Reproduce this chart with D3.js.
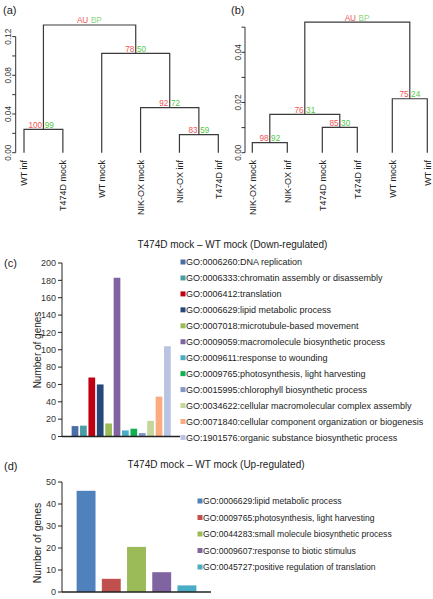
<!DOCTYPE html>
<html><head><meta charset="utf-8">
<script src="https://cdn.jsdelivr.net/npm/d3@7"></script>
<style>body{margin:0;background:#fff}svg{display:block;font-family:"Liberation Sans",Arial,sans-serif}</style>
</head><body><svg id="chart" width="433" height="599"></svg>
<script>
// ---------- data ----------
const leavesA = ["WT inf","T474D mock","WT mock","NIK-OX mock","NIK-OX inf","T474D inf"];
const mergeA = [[-5,-6],[-1,-2],[-4,1],[-3,3],[2,4]];
const heightA = [0.0186,0.0242,0.0465,0.1027,0.132];
const auA = ["83","100","92","78","AU"];
const bpA = ["59","99","72","50","BP"];
const ticksA = [0,0.02,0.04,0.06,0.08,0.10,0.12];
const tickLabelsA = ["0.00","","0.04","","0.08","","0.12"];

const leavesB = ["NIK-OX mock","NIK-OX inf","T474D mock","T474D inf","WT mock","WT inf"];
const mergeB = [[-1,-2],[-3,-4],[1,2],[-5,-6],[3,4]];
const heightB = [0.0040,0.0101,0.0153,0.0215,0.052];
const auB = ["98","85","76","75","AU"];
const bpB = ["92","30","31","24","BP"];
const ticksB = [0,0.01,0.02,0.03,0.04,0.05];
const tickLabelsB = ["0.00","","0.02","","0.04",""];

const titleDown = "T474D mock \u2013 WT mock (Down-regulated)";
const termsDown = ["GO:0006260:DNA replication","GO:0006333:chromatin assembly or disassembly","GO:0006412:translation","GO:0006629:lipid metabolic process","GO:0007018:microtubule-based movement","GO:0009059:macromolecule biosynthetic process","GO:0009611:response to wounding","GO:0009765:photosynthesis, light harvesting","GO:0015995:chlorophyll biosynthetic process","GO:0034622:cellular macromolecular complex assembly","GO:0071840:cellular component organization or biogenesis","GO:1901576:organic substance biosynthetic process"];
const valuesDown = [12,12.5,68,60,15,183,7,9,4,18,46,104];
const ticksDown = [0,20,40,60,80,100,120,140,160,180,200];

const titleUp = "T474D mock \u2013 WT mock (Up-regulated)";
const termsUp = ["GO:0006629:lipid metabolic process","GO:0009765:photosynthesis, light harvesting","GO:0044283:small molecule biosynthetic process","GO:0009607:response to biotic stimulus","GO:0045727:positive regulation of translation"];
const valuesUp = [46,6,20.5,9,3];
const ticksUp = [0,10,20,30,40,50];

// ---------- styles ----------
const paletteDown = ["#4a6fa6","#4a9da2","#c00010","#24497a","#9bbb59","#8064a2","#4bacc6","#10b050","#8596c8","#c3d69b","#fbab80","#b8c4e2"];
const paletteUp = ["#4f81bd","#c0504d","#9bbb59","#8064a2","#4bacc6"];
const AUcol = "#ee5555", BPcol = "#55c845";

const svg = d3.select("#chart");
svg.append("rect").attr("width",433).attr("height",599).attr("fill","#fff");

function dendro(o){
  const g = svg.append("g");
  const x = d3.scalePoint().domain(o.leaves).range(o.xr);
  const y = d3.scaleLinear().domain([0,o.scaleVal]).range([o.y0,o.y1]);
  const pos = [];
  const get = c => c<0 ? {x:x(o.leaves[-c-1]), h:0} : pos[c-1];
  const lines = [];
  o.merge.forEach((m,i)=>{
    const a = get(m[0]), b = get(m[1]), h = o.heights[i];
    lines.push(`M${a.x},${y(a.h)}V${y(h)}H${b.x}V${y(b.h)}`);
    pos.push({x:(a.x+b.x)/2, h:h});
  });
  g.selectAll("path.br").data(lines).join("path").attr("class","br")
    .attr("d",d=>d).attr("fill","none").attr("stroke","#3a3a3a").attr("stroke-width",1.2);
  // p-values
  g.selectAll("text.au").data(pos).join("text").attr("class","au")
    .attr("x",d=>d.x-1.3).attr("y",d=>y(d.h)-1.6).attr("text-anchor","end")
    .attr("font-size",8.2).attr("fill",AUcol).text((d,i)=>o.au[i]);
  g.selectAll("text.bp").data(pos).join("text").attr("class","bp")
    .attr("x",d=>d.x+1.3).attr("y",d=>y(d.h)-1.6).attr("text-anchor","start")
    .attr("font-size",8.2).attr("fill",(d,i)=>i===pos.length-1?"#8fd57f":BPcol).text((d,i)=>o.bp[i]);
  // leaf labels
  g.selectAll("text.leaf").data(o.leaves).join("text").attr("class","leaf")
    .attr("transform",d=>`translate(${x(d)+3.2},${o.labelY}) rotate(-90)`)
    .attr("text-anchor","end").attr("font-size",9).attr("fill","#222").text(d=>d);
  // axis
  const ax = g.append("g");
  ax.append("line").attr("x1",o.axisX).attr("x2",o.axisX)
    .attr("y1",y(o.ticks[0])).attr("y2",y(o.ticks[o.ticks.length-1])).attr("stroke","#333");
  ax.selectAll("line.t").data(o.ticks).join("line").attr("class","t")
    .attr("x1",o.axisX).attr("x2",o.axisX-3.5).attr("y1",d=>y(d)).attr("y2",d=>y(d)).attr("stroke","#333");
  ax.selectAll("text").data(o.ticks).join("text")
    .attr("transform",d=>`translate(${o.axisX-4.5},${y(d)}) rotate(-90)`)
    .attr("text-anchor","middle").attr("font-size",8.3).attr("fill","#333")
    .text((d,i)=>o.tickLabels[i]);
  svg.append("text").attr("x",o.panelX).attr("y",13.5).attr("font-size",11).attr("fill","#222").text(o.panel);
}

dendro({leaves:leavesA, merge:mergeA, heights:heightA, au:auA, bp:bpA, ticks:ticksA, tickLabels:tickLabelsA,
  xr:[24,218.3], scaleVal:0.12, y0:152.7, y1:36.6, axisX:15.7, labelY:160, panel:"(a)", panelX:3});
dendro({leaves:leavesB, merge:mergeB, heights:heightB, au:auB, bp:bpB, ticks:ticksB, tickLabels:tickLabelsB,
  xr:[252.3,427.3], scaleVal:0.04, y0:152.7, y1:52.3, axisX:245, labelY:160, panel:"(b)", panelX:231});

function bars(o){
  const g = svg.append("g");
  const y = d3.scaleLinear().domain([0,o.ymax]).range([o.yb,o.yt]);
  const x = d3.scaleBand().domain(o.terms).range(o.xr).paddingInner(o.pi).paddingOuter(o.po);
  g.selectAll("rect.bar").data(o.values).join("rect").attr("class","bar")
    .attr("x",(d,i)=>x(o.terms[i])).attr("width",x.bandwidth())
    .attr("y",d=>y(d)).attr("height",d=>y(0)-y(d)).attr("fill",(d,i)=>o.colors[i]);
  // axes
  g.append("line").attr("x1",o.ax).attr("x2",o.ax).attr("y1",o.yb).attr("y2",o.yt).attr("stroke","#222").attr("stroke-width",1);
  g.append("line").attr("x1",o.ax).attr("x2",o.axEnd).attr("y1",o.yb).attr("y2",o.yb).attr("stroke","#222").attr("stroke-width",1.3);
  g.selectAll("line.t").data(o.ticks).join("line").attr("class","t")
    .attr("x1",o.ax-4).attr("x2",o.ax).attr("y1",d=>y(d)).attr("y2",d=>y(d)).attr("stroke","#222");
  g.selectAll("text.tl").data(o.ticks).join("text").attr("class","tl")
    .attr("x",o.ax-6).attr("y",d=>y(d)).attr("dy","0.35em").attr("text-anchor","end")
    .attr("font-size",9).attr("fill","#333").text(d=>d);
  g.append("text").attr("transform",`translate(41,${o.ylabY}) rotate(-90)`).attr("text-anchor","middle")
    .attr("font-size",o.ylabSize).attr("fill","#222").text("Number of genes");
  g.append("text").attr("x",o.titleX).attr("y",o.titleY).attr("text-anchor","middle")
    .attr("font-size",10).attr("fill","#222").text(o.title);
  g.append("text").attr("x",4).attr("y",o.panelY).attr("font-size",11).attr("fill","#222").text(o.panel);
  const lg = g.selectAll("g.lg").data(o.terms).join("g").attr("class","lg")
    .attr("transform",(d,i)=>`translate(${o.legX},${o.legY0+i*o.legStep})`);
  lg.append("rect").attr("x",0).attr("y",-2.5).attr("width",5).attr("height",5).attr("fill",(d,i)=>o.colors[i]);
  lg.append("text").attr("x",5.5).attr("y",0).attr("dy","0.35em").attr("font-size",o.legSize).attr("fill","#222").text(d=>d);
}

bars({terms:termsDown, values:valuesDown, colors:paletteDown, ticks:ticksDown, ymax:200,
  yb:436.5, yt:263, xr:[70.8,171.6], pi:0.2, po:0.1, ax:62, axEnd:180,
  ylabY:350, ylabSize:10, title:titleDown, titleX:232.4, titleY:247.5, panel:"(c)", panelY:267,
  legX:180.5, legY0:262, legStep:15.95, legSize:9});
bars({terms:termsUp, values:valuesUp, colors:paletteUp, ticks:ticksUp, ymax:50,
  yb:592, yt:482, xr:[62,211], pi:0.25, po:0.58, ax:62, axEnd:211,
  ylabY:543, ylabSize:10.5, title:titleUp, titleX:216, titleY:467.5, panel:"(d)", panelY:470,
  legX:197.5, legY0:501, legStep:16.5, legSize:8.6});
</script></body></html>
